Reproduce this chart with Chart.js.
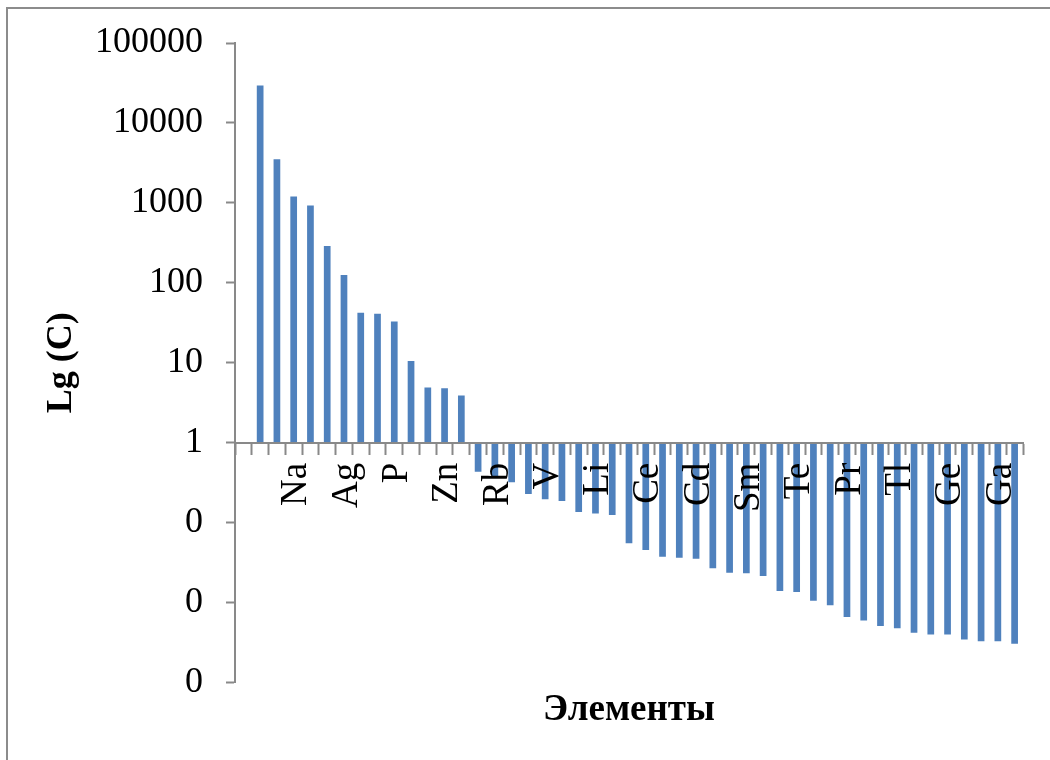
<!DOCTYPE html>
<html>
<head>
<meta charset="utf-8">
<script src="https://cdn.jsdelivr.net/npm/chart.js@4/dist/chart.umd.min.js"></script>
<style>
  html, body { margin: 0; padding: 0; background: #ffffff; }
  canvas { display: block; }
</style>
</head>
<body>
<canvas id="chart" width="1050" height="760"></canvas>
<script>
// Element symbols (only every third category carries a printed name)
const elements = [
  "", "", "", "Na", "", "", "Ag", "", "", "P", "", "", "Zn", "", "",
  "Rb", "", "", "V", "", "", "Li", "", "", "Ce", "", "", "Cd", "", "",
  "Sm", "", "", "Te", "", "", "Pr", "", "", "Tl", "", "", "Ge", "", "",
  "Ga", ""
];

// Concentration C for each category
const concentration = [
  null, 29500, 3520, 1205, 928, 288, 125, 42.2, 41, 32.9, 10.5, 4.92, 4.79, 3.91,
  0.434, 0.38, 0.32, 0.229, 0.196, 0.187, 0.136, 0.13, 0.125,
  0.0552, 0.0456, 0.0376, 0.0365, 0.0355, 0.0269, 0.0237, 0.0233, 0.0216,
  0.014, 0.0136, 0.0106, 0.0093, 0.0066, 0.006, 0.0051, 0.0048,
  0.0042, 0.004, 0.004, 0.00345, 0.0033, 0.0033, 0.00307
];

// Decade ticks of the logarithmic axis
const yTicks = [0.001, 0.01, 0.1, 1, 10, 100, 1000, 10000, 100000];

const SERIF = "'Liberation Serif', 'Times New Roman', serif";
const AXIS_GREY = '#898989';

// White page with a thin grey frame around the chart
const framePlugin = {
  id: 'frame',
  beforeDraw(chart) {
    const ctx = chart.ctx;
    ctx.save();
    ctx.fillStyle = '#ffffff';
    ctx.fillRect(0, 0, chart.width, chart.height);
    ctx.strokeStyle = '#8c8c8c';
    ctx.lineWidth = 2;
    ctx.strokeRect(7, 8, 2000, 2000);
    ctx.restore();
  }
};

new Chart(document.getElementById('chart'), {
  type: 'bar',
  data: {
    labels: elements,
    datasets: [{
      data: concentration,
      base: 1,
      backgroundColor: '#4F81BD',
      borderWidth: 0,
      barPercentage: 0.4,
      categoryPercentage: 1.0
    }]
  },
  options: {
    responsive: false,
    animation: false,
    events: [],
    layout: { padding: { left: 36, right: 27, top: 43, bottom: 27 } },
    plugins: {
      legend: { display: false },
      tooltip: { enabled: false },
      title: {
        display: true,
        position: 'bottom',
        fullSize: false,
        text: 'Элементы',
        color: '#000000',
        font: { family: SERIF, size: 37, weight: 'bold' },
        padding: { top: 6, bottom: 0 }
      }
    },
    scales: {
      x: {
        position: { y: 1 },
        offset: true,
        afterFit(scale) { scale.paddingLeft = 0; scale.paddingRight = 0; },
        grid: {
          display: true,
          offset: true,
          drawOnChartArea: false,
          drawTicks: true,
          tickLength: 11,
          tickWidth: 2,
          tickColor: AXIS_GREY,
          z: 1
        },
        border: { display: true, color: AXIS_GREY, width: 2, z: 1 },
        ticks: {
          z: 1,
          autoSkip: false,
          minRotation: 90,
          maxRotation: 90,
          padding: 9,
          labelOffset: 3,
          color: '#000000',
          font: { family: SERIF, size: 37 }
        }
      },
      y: {
        type: 'logarithmic',
        min: 0.001,
        max: 100000,
        afterFit(scale) {
          scale.width = 199;
          scale.paddingTop = 0;
          scale.paddingBottom = 0;
        },
        afterBuildTicks(scale) { scale.ticks = yTicks.map(v => ({ value: v })); },
        grid: {
          display: true,
          drawOnChartArea: false,
          drawTicks: true,
          tickLength: 9,
          tickWidth: 2,
          tickColor: AXIS_GREY
        },
        border: { display: true, color: AXIS_GREY, width: 2 },
        ticks: {
          padding: 23,
          color: '#000000',
          font: { family: SERIF, size: 36 },
          callback: (v) => (v >= 1 ? String(v) : '0')
        },
        title: {
          display: true,
          text: 'Lg (C)',
          color: '#000000',
          font: { family: SERIF, size: 36, weight: 'bold' },
          padding: { top: 4, bottom: 4 }
        }
      }
    }
  },
  plugins: [framePlugin]
});
</script>
</body>
</html>
